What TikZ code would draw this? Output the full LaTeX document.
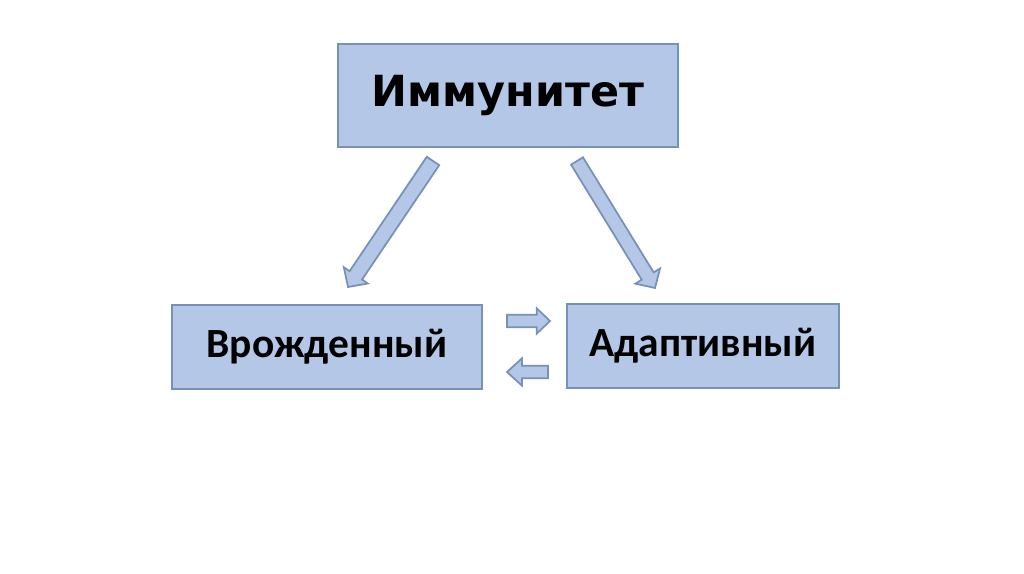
\documentclass[tikz,border=0pt]{standalone}
\usepackage{fontspec}
\setmainfont{Carlito}
\newfontfamily\headfont{DejaVu Sans}
\usetikzlibrary{calc}
\definecolor{boxfill}{HTML}{B4C7E7}
\definecolor{boxline}{HTML}{7891B9}
\tikzset{
  kbox/.style={draw=boxline, fill=boxfill, line width=0.6pt, inner sep=0pt},
  barrow/.style={draw=boxline, fill=boxfill, line width=0.5pt, line join=miter}
}
% block arrow: from, to, shaft half width, head half width, head length
\newcommand{\blockarrow}[5]{%
  \coordinate (ba-h) at ($(#2)!#5!(#1)$);
  \draw[barrow] ($(#1)!#3!90:(#2)$) -- ($(ba-h)!#3!90:(#2)$) -- ($(ba-h)!#4!90:(#2)$)
    -- (#2) -- ($(ba-h)!#4!-90:(#2)$) -- ($(ba-h)!#3!-90:(#2)$) -- ($(#1)!#3!-90:(#2)$) -- cycle;
}
\begin{document}
\begin{tikzpicture}[x=0.01cm, y=-0.01cm]
\useasboundingbox (0,0) rectangle (1024,574);
\fill[white] (0,0) rectangle (1024,574);
\node[kbox, minimum width=3.40cm, minimum height=1.03cm, font=\headfont\bfseries\fontsize{12.2}{14}\selectfont]
  (immun) at (508,95.5) {Иммунитет};
\node[kbox, minimum width=3.10cm, minimum height=0.84cm, font=\bfseries\fontsize{11.8}{14}\selectfont]
  (innate) at (327,347) {Врожденный};
\node[kbox, minimum width=2.72cm, minimum height=0.84cm, font=\bfseries\fontsize{11.8}{14}\selectfont]
  (adapt) at (703,346) {Адаптивный};
% arrows from the top box
\coordinate (dl-s) at (433,161);
\coordinate (dl-e) at (348,287);
\coordinate (dr-s) at (577,161);
\coordinate (dr-e) at (655,288);
\blockarrow{dl-s}{dl-e}{0.075cm}{0.145cm}{0.14cm}
\blockarrow{dr-s}{dr-e}{0.07cm}{0.145cm}{0.14cm}
% exchange arrows between the two boxes
\coordinate (xr-s) at (507,321);
\coordinate (xr-e) at (550,321);
\coordinate (xl-s) at (548,372);
\coordinate (xl-e) at (507,372);
\blockarrow{xr-s}{xr-e}{0.062cm}{0.127cm}{0.133cm}
\blockarrow{xl-s}{xl-e}{0.062cm}{0.137cm}{0.15cm}
\end{tikzpicture}
\end{document}
